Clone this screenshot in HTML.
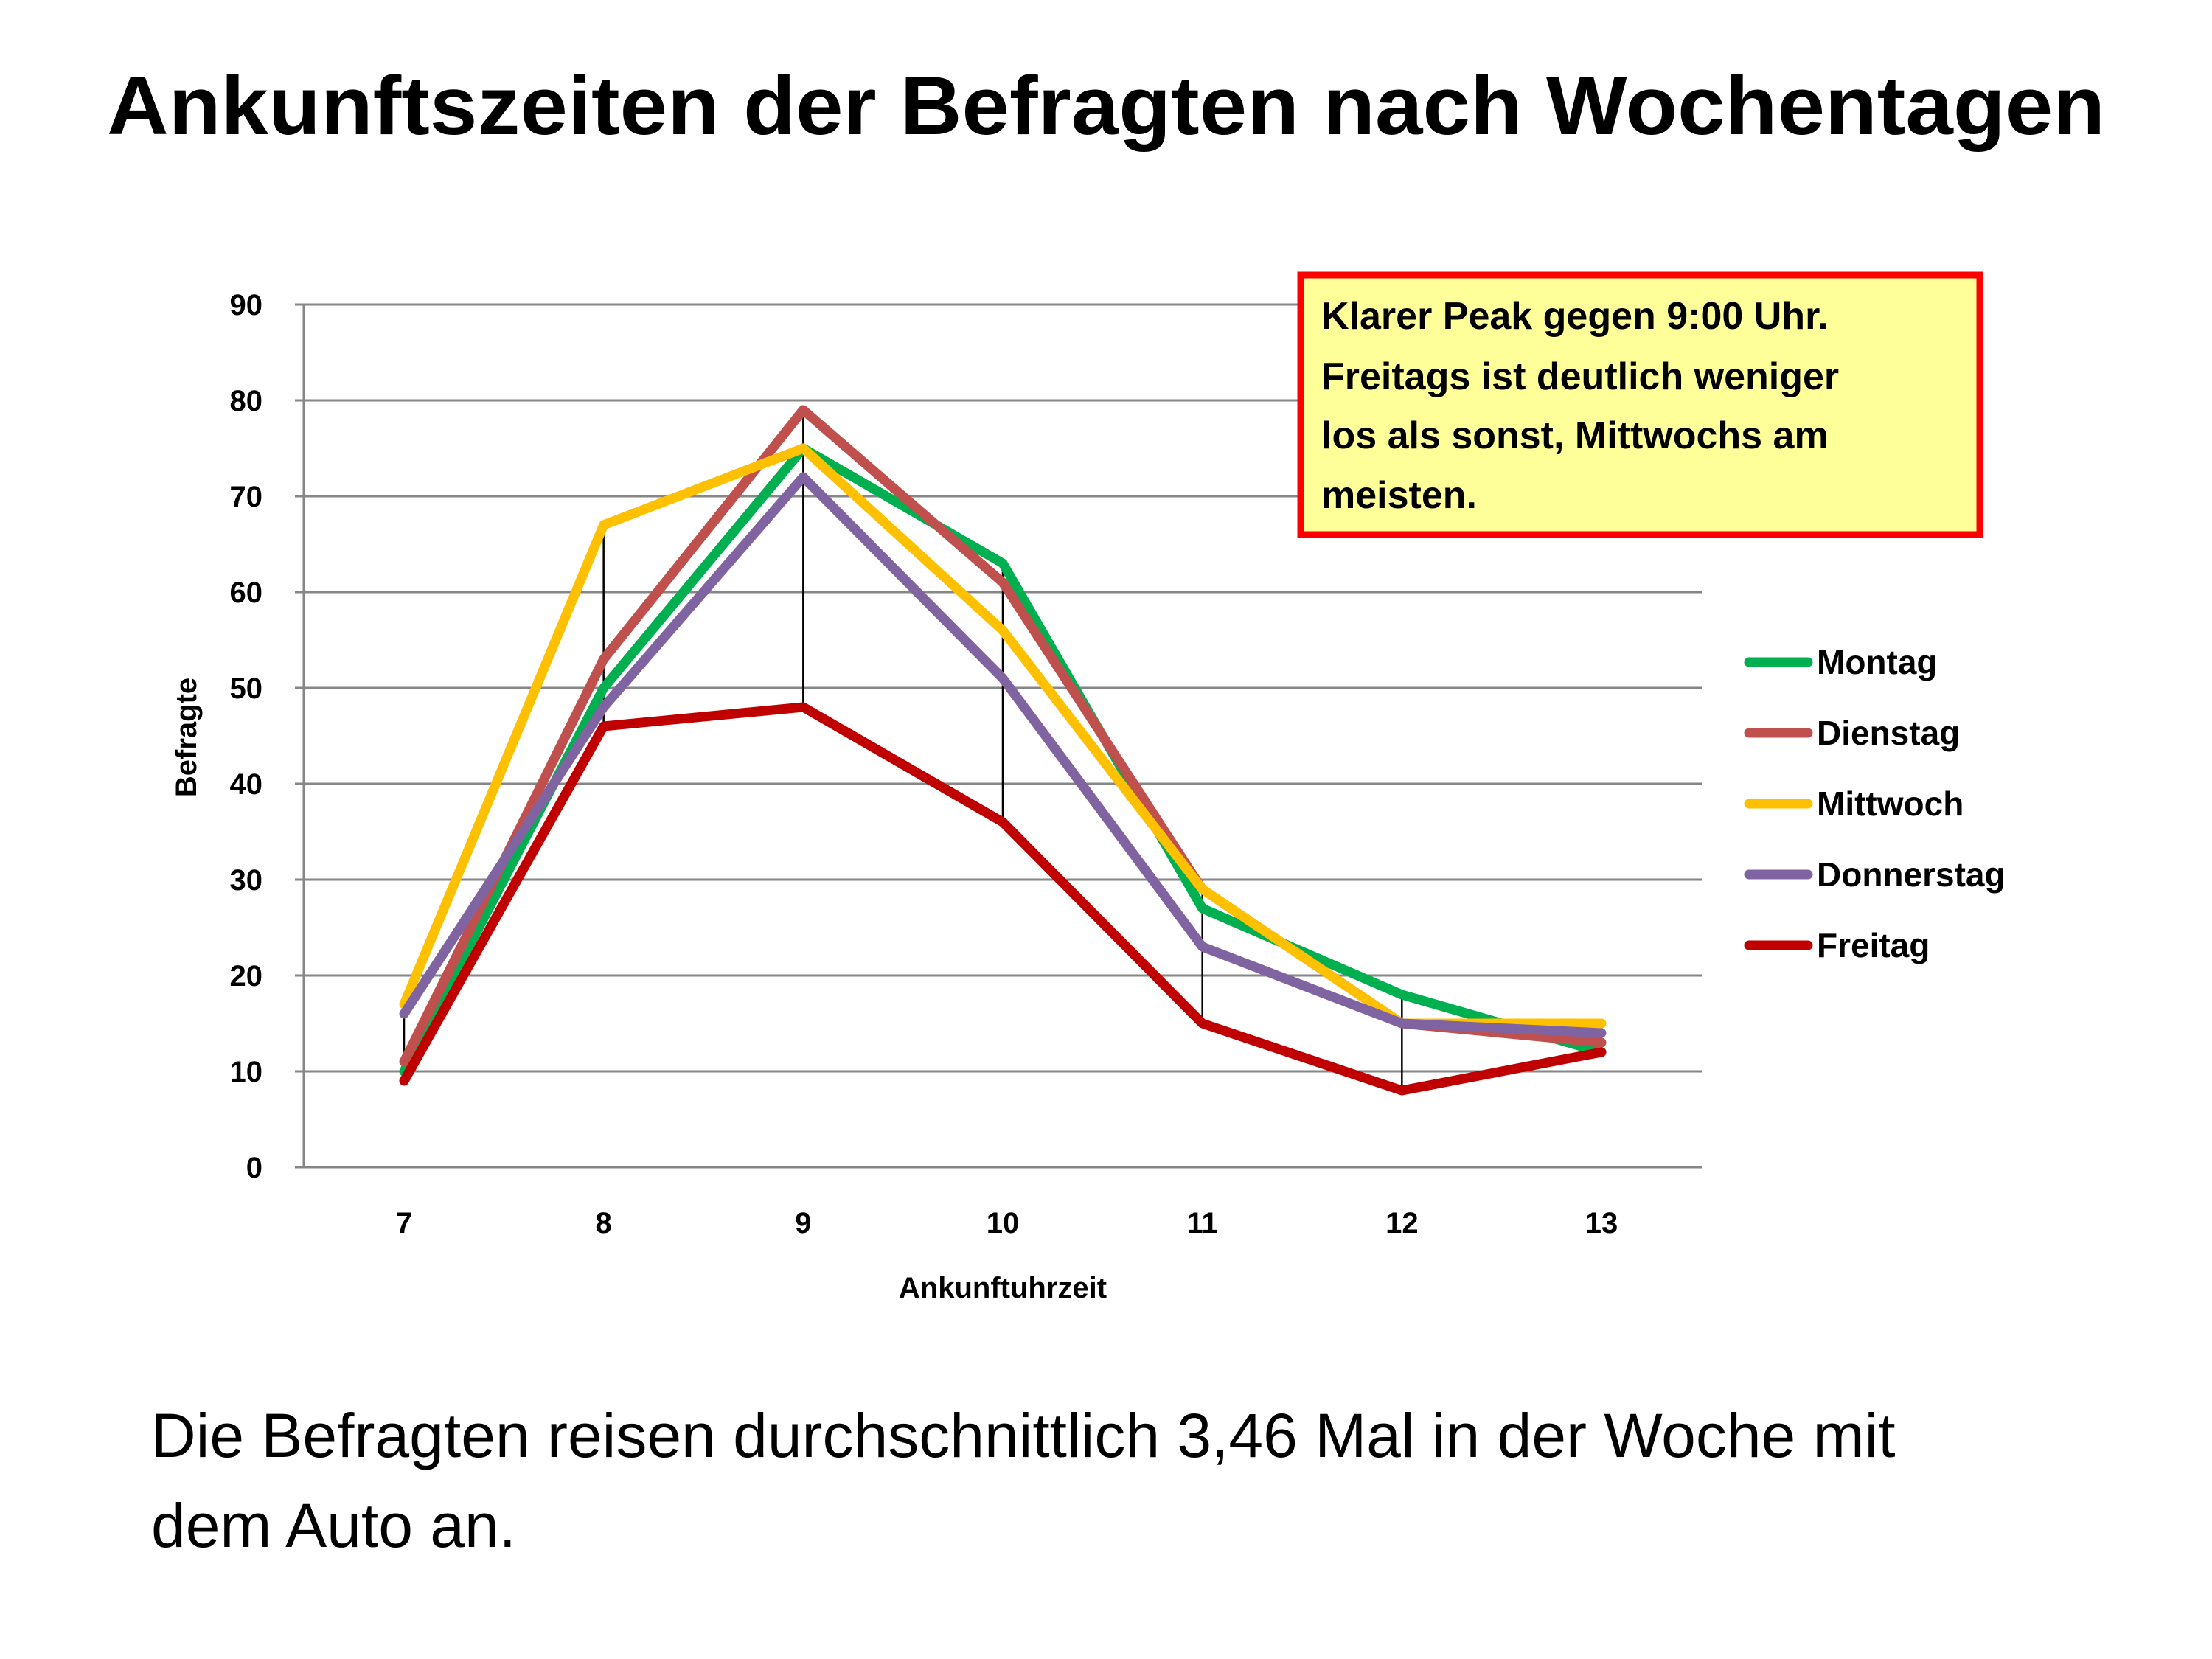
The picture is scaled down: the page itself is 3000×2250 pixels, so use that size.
<!DOCTYPE html>
<html><head><meta charset="utf-8"><style>
html,body{margin:0;padding:0;background:#fff;}
svg{display:block;font-family:"Liberation Sans",sans-serif;}
</style></head><body>
<svg id="c" width="3000" height="2250" viewBox="0 0 3000 2250">
<text x="1500" y="182" text-anchor="middle" font-size="112" font-weight="bold" textLength="2710" lengthAdjust="spacingAndGlyphs">Ankunftszeiten der Befragten nach Wochentagen</text>
<g id="grid"></g>
<g id="hl"></g>
<g id="series"></g>
<g id="ticks"></g>
<text transform="translate(266,1000) rotate(-90)" text-anchor="middle" font-size="40" font-weight="bold">Befragte</text>
<text x="1360" y="1760" text-anchor="middle" font-size="40" font-weight="bold">Ankunftuhrzeit</text>
<rect x="1764" y="373" width="921" height="352" fill="#ffff99" stroke="#ff0000" stroke-width="9"/>
<g font-size="52" font-weight="bold">
<text x="1792" y="446">Klarer Peak gegen 9:00 Uhr.</text>
<text x="1792" y="528">Freitags ist deutlich weniger</text>
<text x="1792" y="608">los als sonst, Mittwochs am</text>
<text x="1792" y="689">meisten.</text>
</g>
<g id="legend"></g>
<g font-size="84">
<text x="205" y="1976">Die Befragten reisen durchschnittlich 3,46 Mal in der Woche mit</text>
<text x="205" y="2098">dem Auto an.</text>
</g>
</svg>
<script>
const categories=[7,8,9,10,11,12,13];
const yTicks=[0,10,20,30,40,50,60,70,80,90];
const seriesNames=["Montag","Dienstag","Mittwoch","Donnerstag","Freitag"];
const montag=[10,50,75,63,27,18,12];
const dienstag=[11,53,79,61,29,15,13];
const mittwoch=[17,67,75,56,29,15,15];
const donnerstag=[16,48,72,51,23,15,14];
const freitag=[9,46,48,36,15,8,12];
const colors=["#00b050","#c0504d","#ffc000","#8064a2","#c00000"];
const allSeries=[montag,dienstag,mittwoch,donnerstag,freitag];
const NS="http://www.w3.org/2000/svg";
const X0=412,X1=2308,Y0=1583,Y90=413;
const xs=i=>548+i*(2172-548)/(categories.length-1);
const ys=v=>Y0-(v/90)*(Y0-Y90);
function mk(t,a,p){const e=document.createElementNS(NS,t);for(const k in a)e.setAttribute(k,a[k]);p.appendChild(e);return e;}
const grid=document.getElementById('grid'),ticks=document.getElementById('ticks');
yTicks.forEach(v=>{
 const l=mk('line',{x1:X0-12,x2:X1,y1:ys(v),y2:ys(v),stroke:'#868686','stroke-width':3},grid);
 
 
 const t=mk('text',{x:356,y:ys(v)+14,'text-anchor':'end','font-size':40,'font-weight':'bold'},ticks);
 t.textContent=v;
 
 
});
const ax=mk('line',{x1:X0,x2:X0,y1:Y90,y2:Y0,stroke:'#868686','stroke-width':3},grid);


categories.forEach((c,i)=>{
 const t=mk('text',{x:xs(i),y:1672,'text-anchor':'middle','font-size':40,'font-weight':'bold'},ticks);
 t.textContent=c;
 
 
 const vals=allSeries.map(s=>s[i]);
 const hl=mk('line',{x1:xs(i),x2:xs(i),y1:ys(Math.max(...vals)),y2:ys(Math.min(...vals)),stroke:'#000','stroke-width':2.5},document.getElementById('hl'));
 
 
});
const sg=document.getElementById('series'),lg=document.getElementById('legend');
allSeries.forEach((s,k)=>{
 const p=mk('polyline',{points:s.map((v,i)=>xs(i)+','+ys(v)).join(' '),fill:'none',stroke:colors[k],'stroke-width':13,'stroke-linejoin':'round','stroke-linecap':'round'},sg);
 
 
 const ly=898+k*96;
 const ll=mk('line',{x1:2372,x2:2452,y1:ly,y2:ly,stroke:colors[k],'stroke-width':13,'stroke-linecap':'round'},lg);
 
 
 const lt=mk('text',{x:2464,y:ly+16,'font-size':46,'font-weight':'bold'},lg);
 lt.textContent=seriesNames[k];
 
 
});
</script>
</body></html>
